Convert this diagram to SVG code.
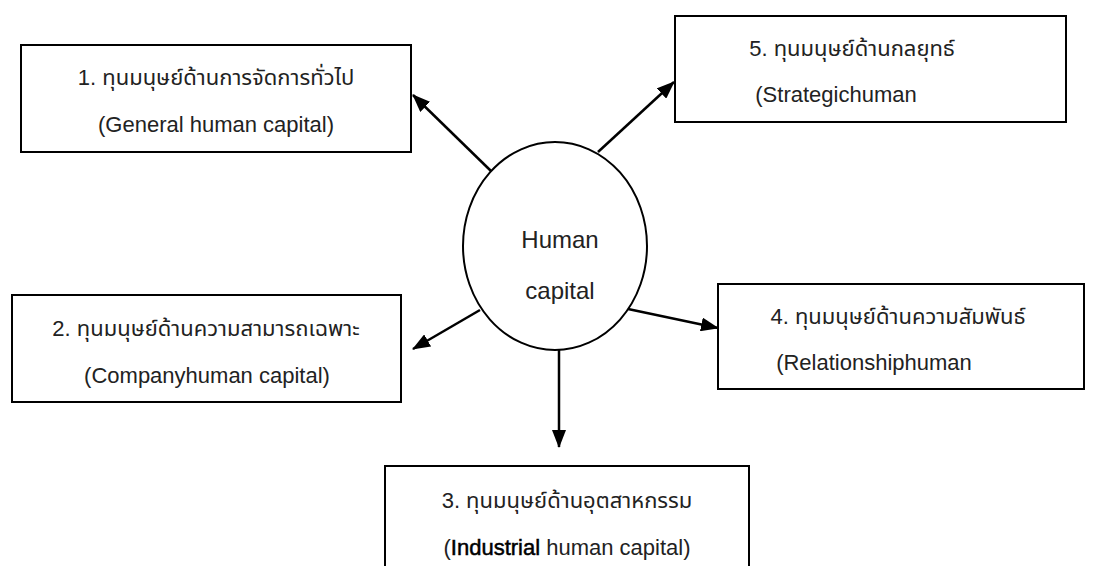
<svg xmlns="http://www.w3.org/2000/svg" width="1098" height="566" viewBox="0 0 1098 566">
  <style>
    .box { fill: #ffffff; stroke: #000000; stroke-width: 2; }
    .ell { fill: #ffffff; stroke: #000000; stroke-width: 2; }
    .t { font-family: "Liberation Sans", "Noto Sans Thai", "Noto Sans", "DejaVu Sans", sans-serif; font-size: 22px; fill: #222222; text-anchor: middle; }
    .c { font-family: "Liberation Sans", "Noto Sans", sans-serif; font-size: 24px; fill: #222222; text-anchor: middle; }
    .conn { stroke: #000000; stroke-width: 2.5; fill: none; marker-end: url(#ah); }
  </style>
  <defs>
    <marker id="ah" markerUnits="userSpaceOnUse" markerWidth="18" markerHeight="14" refX="17" refY="7" orient="auto">
      <path d="M0,0 L18,7 L0,14 Z" fill="#000000"/>
    </marker>
  </defs>
  <rect width="1098" height="566" fill="#ffffff"/>

  <g id="node1">
    <rect class="box" x="21" y="45" width="390" height="107"/>
    <text class="t" x="216" y="85">1. ทุนมนุษย์ด้านการจัดการทั่วไป</text>
    <text class="t" x="216" y="132">(General human capital)</text>
  </g>

  <g id="node5">
    <rect class="box" x="675" y="16" width="391" height="106"/>
    <text class="t" x="852" y="56">5. ทุนมนุษย์ด้านกลยุทธ์</text>
    <text class="t" x="836" y="102">(Strategichuman</text>
  </g>

  <g id="node2">
    <rect class="box" x="12" y="295" width="389" height="107"/>
    <text class="t" x="206" y="336">2. ทุนมนุษย์ด้านความสามารถเฉพาะ</text>
    <text class="t" x="207" y="383">(Companyhuman capital)</text>
  </g>

  <g id="node4">
    <rect class="box" x="718" y="284" width="366" height="105"/>
    <text class="t" x="898" y="324">4. ทุนมนุษย์ด้านความสัมพันธ์</text>
    <text class="t" x="874" y="370">(Relationshiphuman</text>
  </g>

  <g id="node3">
    <rect class="box" x="385" y="466" width="364" height="110"/>
    <text class="t" x="567" y="508">3. ทุนมนุษย์ด้านอุตสาหกรรม</text>
    <text class="t" x="567" y="555">(<tspan fill="#000000" stroke="#000000" stroke-width="0.5">Industrial</tspan> human capital)</text>
  </g>

  <g id="center">
    <ellipse class="ell" cx="555" cy="246" rx="92" ry="104"/>
    <text class="c" x="560" y="248">Human</text>
    <text class="c" x="560" y="299">capital</text>
  </g>

  <g id="connectors">
    <line class="conn" x1="491" y1="171" x2="413" y2="95"/>
    <line class="conn" x1="598" y1="152" x2="674" y2="82"/>
    <line class="conn" x1="480" y1="310" x2="413" y2="349"/>
    <line class="conn" x1="628" y1="309" x2="718" y2="328"/>
    <line class="conn" x1="559" y1="350" x2="559" y2="447"/>
  </g>
</svg>
